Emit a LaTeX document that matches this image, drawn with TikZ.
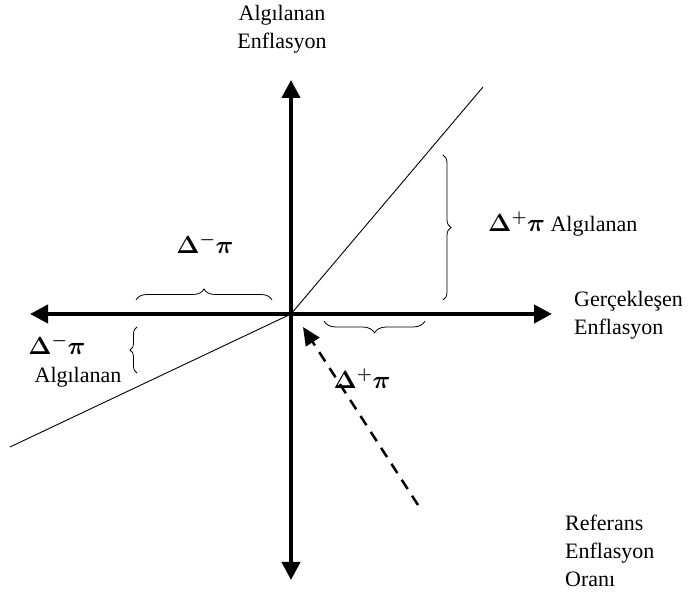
\documentclass[tikz,border=0pt]{standalone}
\usepackage{fontspec}
\setmainfont{Liberation Serif}
\usetikzlibrary{arrows.meta,decorations.pathreplacing}
\newcommand{\dlt}[1]{{\fontsize{24}{28}\selectfont\boldmath$\Delta^{#1}\pi$}}
\begin{document}
\begin{tikzpicture}[x=1pt,y=1pt,
  lbl/.style={font=\fontsize{22}{28}\selectfont, inner sep=0pt},
  axis/.style={line width=4pt, {Triangle[length=18pt,width=18pt]}-{Triangle[length=18pt,width=18pt]}},
  brc/.style={draw, line width=0.8pt, decorate, decoration={brace, amplitude=#1}},
  dsh/.style={line width=2.5pt, dash pattern=on 11pt off 8pt, -{Triangle[length=18pt,width=16pt]}}
]
\useasboundingbox (0,0) rectangle (694,601);
\coordinate (O) at (291,287);
\coordinate (vt) at (291,521);
\coordinate (vb) at (291,21);
\coordinate (hl) at (30,287);
\coordinate (hr) at (552,287);
\coordinate (ur) at (483,514);
\coordinate (ll) at (10,154);
\draw[axis] (vb) -- (vt);
\draw[axis] (hl) -- (hr);
\draw[line width=0.9pt] (ll) -- (O) -- (ur);
% braces
\coordinate (b1a) at (136,301); \coordinate (b1b) at (272,301);
\draw[brc=11pt] (b1a) -- (b1b);
\coordinate (b2a) at (137,228); \coordinate (b2b) at (137,274);
\draw[brc=7pt] (b2a) -- (b2b);
\coordinate (b3a) at (443,446); \coordinate (b3b) at (443,301);
\draw[brc=8pt] (b3a) -- (b3b);
\coordinate (b4a) at (425,280); \coordinate (b4b) at (324,280);
\draw[brc=12pt] (b4a) -- (b4b);
% labels
\node[lbl] (dm1) at (205,357) {\dlt{-}};
\node[lbl] (dm2) at (57,256) {\dlt{-}};
\node[lbl] (alg2) at (78,224) {Algılanan};
\node[lbl, anchor=west] (dp1) at (488,377) {\dlt{+} Algılanan};
\node[lbl] (dp2) at (362,222) {\dlt{+}};
\node[lbl, align=center] (yl) at (282,572) {Algılanan\\Enflasyon};
\node[lbl, align=left, anchor=west] (xl) at (574,286) {Gerçekleşen\\Enflasyon};
\node[lbl, align=left, anchor=west] (ref) at (565,50) {Referans\\Enflasyon\\Oranı};
\coordinate (ds) at (418,96);
\coordinate (de) at (303,274);
\draw[dsh] (ds) -- (de);
\end{tikzpicture}
\end{document}
